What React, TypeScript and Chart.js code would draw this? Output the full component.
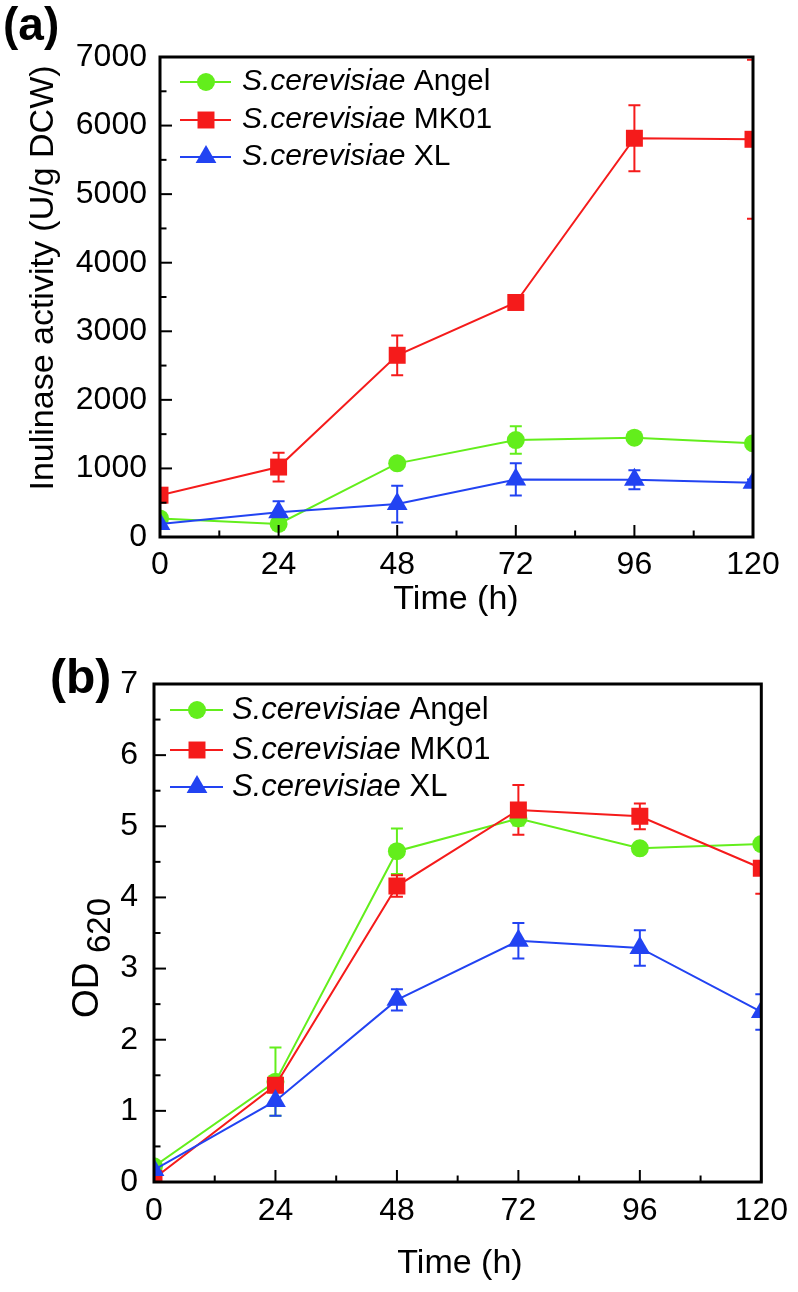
import React, { useEffect, useRef } from 'react';
import { Chart, registerables } from 'chart.js';

Chart.register(...registerables);

// ---------- data ----------
const hours = [0, 24, 48, 72, 96, 120];
const xTickStep = 24;
const strainNames = ['Angel', 'MK01', 'XL'];
const speciesName = 'S.cerevisiae';

// (a) Inulinase activity (U/g DCW)
const activityAngel = [270, 190, 1074, 1414, 1448, 1366];
const activityAngelErr = [50, 60, 40, 200, 40, 60];
const activityMK01 = [610, 1020, 2650, 3420, 5815, 5800];
const activityMK01Err = [40, 210, 290, 50, 480, 1160];
const activityXL = [190, 360, 480, 840, 835, 790];
const activityXLErr = [60, 160, 267, 236, 140, 50];
const activityTicks = [0, 1000, 2000, 3000, 4000, 5000, 6000, 7000];

// (b) OD 620
const odAngel = [0.22, 1.41, 4.65, 5.11, 4.69, 4.75];
const odAngelErr = [0.05, 0.48, 0.32, 0.1, 0.05, 0.05];
const odMK01 = [0.05, 1.36, 4.16, 5.23, 5.14, 4.41];
const odMK01Err = [0.05, 0.1, 0.15, 0.35, 0.18, 0.36];
const odXL = [0.17, 1.14, 2.56, 3.39, 3.29, 2.39];
const odXLErr = [0.05, 0.21, 0.15, 0.25, 0.25, 0.25];
const odTicks = [0, 1, 2, 3, 4, 5, 6, 7];

// ---------- style ----------
const FONT = '"Liberation Sans", Arial, Helvetica, sans-serif';
const COLORS = ['#63ee1c', '#f51b1b', '#2243f2'];
const STYLES = ['circle', 'rect', 'triangle'];
const RADII = [9, 12, 12];
const ORDERS = [3, 2, 1];

function drawMarker(ctx: CanvasRenderingContext2D, style: string, x: number, y: number, r: number) {
  ctx.beginPath();
  if (style === 'circle') {
    ctx.arc(x, y, r, 0, Math.PI * 2);
  } else if (style === 'rect') {
    const s = Math.SQRT1_2 * r;
    ctx.rect(x - s, y - s, 2 * s, 2 * s);
  } else {
    let rad = 0;
    ctx.moveTo(x + Math.sin(rad) * r, y - Math.cos(rad) * r);
    rad += (2 * Math.PI) / 3;
    ctx.lineTo(x + Math.sin(rad) * r, y - Math.cos(rad) * r);
    rad += (2 * Math.PI) / 3;
    ctx.lineTo(x + Math.sin(rad) * r, y - Math.cos(rad) * r);
    ctx.closePath();
  }
  ctx.fill();
}

interface PanelSpec {
  width: number;
  height: number;
  area: { left: number; top: number; right: number; bottom: number };
  yTicks: number[];
  yMinor: number;
  values: number[][];
  errors: number[][];
  tickPadY: number;
  tickPadX: number;
  xTitle: { x: number; y: number; size: number };
  drawYTitle: (ctx: CanvasRenderingContext2D) => void;
  label: { text: string; x: number; y: number; size: number };
  legend: { rows: number[]; x1: number; x2: number; mx: number; tx: number; size: number };
}

function buildChart(canvas: HTMLCanvasElement, p: PanelSpec) {
  const yMax = p.yTicks[p.yTicks.length - 1];
  const yStep = p.yTicks[1] - p.yTicks[0];
  const xMax = hours[hours.length - 1];

  const decor = {
    id: 'decor',
    beforeDatasetsDraw(chart: any) {
      const ctx = chart.ctx as CanvasRenderingContext2D;
      const { left, right, top, bottom } = chart.chartArea;
      const xs = chart.scales.x;
      const ys = chart.scales.y;
      ctx.save();
      ctx.beginPath();
      ctx.rect(left, top, right - left, bottom - top);
      ctx.clip();
      ctx.lineWidth = 2;
      p.values.forEach((vals, i) => {
        ctx.strokeStyle = COLORS[i];
        vals.forEach((v, j) => {
          const e = p.errors[i][j];
          const x = xs.getPixelForValue(hours[j]);
          const y1 = ys.getPixelForValue(v + e);
          const y2 = ys.getPixelForValue(v - e);
          ctx.beginPath();
          ctx.moveTo(x, y1);
          ctx.lineTo(x, y2);
          ctx.moveTo(x - 6, y1);
          ctx.lineTo(x + 6, y1);
          ctx.moveTo(x - 6, y2);
          ctx.lineTo(x + 6, y2);
          ctx.stroke();
        });
      });
      ctx.restore();
    },
    afterDatasetsDraw(chart: any) {
      const ctx = chart.ctx as CanvasRenderingContext2D;
      const { left, right, top, bottom } = chart.chartArea;
      const xs = chart.scales.x;
      const ys = chart.scales.y;
      ctx.save();
      ctx.strokeStyle = '#000';
      ctx.lineWidth = 2;
      for (let k = 0; k * p.yMinor <= yMax + 1e-9; k++) {
        const v = k * p.yMinor;
        const major = Math.abs(v / yStep - Math.round(v / yStep)) < 1e-6;
        const y = ys.getPixelForValue(v);
        ctx.beginPath();
        ctx.moveTo(left, y);
        ctx.lineTo(left + (major ? 12 : 6.5), y);
        ctx.stroke();
      }
      for (let k = 0; k * (xTickStep / 2) <= xMax + 1e-9; k++) {
        const v = k * (xTickStep / 2);
        const major = k % 2 === 0;
        const x = xs.getPixelForValue(v);
        ctx.beginPath();
        ctx.moveTo(x, bottom);
        ctx.lineTo(x, bottom - (major ? 12 : 6.5));
        ctx.stroke();
      }
      ctx.lineWidth = 3;
      ctx.strokeRect(left, top, right - left, bottom - top);
      ctx.restore();
    },
    afterDraw(chart: any) {
      const ctx = chart.ctx as CanvasRenderingContext2D;
      ctx.save();
      ctx.fillStyle = '#000';
      ctx.font = `${p.xTitle.size}px ${FONT}`;
      ctx.textAlign = 'center';
      ctx.textBaseline = 'middle';
      ctx.fillText('Time (h)', p.xTitle.x, p.xTitle.y);
      p.drawYTitle(ctx);
      ctx.font = `bold ${p.label.size}px ${FONT}`;
      ctx.textAlign = 'left';
      ctx.textBaseline = 'alphabetic';
      ctx.fillText(p.label.text, p.label.x, p.label.y);
      const L = p.legend;
      strainNames.forEach((name, i) => {
        const y = L.rows[i];
        ctx.strokeStyle = COLORS[i];
        ctx.fillStyle = COLORS[i];
        ctx.lineWidth = 2;
        ctx.beginPath();
        ctx.moveTo(L.x1, y);
        ctx.lineTo(L.x2, y);
        ctx.stroke();
        drawMarker(ctx, STYLES[i], L.mx, y, RADII[i]);
        ctx.fillStyle = '#000';
        ctx.textAlign = 'left';
        ctx.textBaseline = 'middle';
        ctx.font = `italic ${L.size}px ${FONT}`;
        ctx.fillText(speciesName, L.tx, y);
        const w = ctx.measureText(speciesName).width;
        ctx.font = `${L.size}px ${FONT}`;
        ctx.fillText(' ' + name, L.tx + w, y);
      });
      ctx.restore();
    },
  };

  return new Chart(canvas, {
    type: 'line',
    data: {
      datasets: p.values.map((vals, i) => ({
        label: `${speciesName} ${strainNames[i]}`,
        data: vals.map((v, j) => ({ x: hours[j], y: v })),
        borderColor: COLORS[i],
        backgroundColor: COLORS[i],
        borderWidth: 2,
        pointStyle: STYLES[i] as any,
        pointRadius: RADII[i],
        pointBorderWidth: 0,
        pointBackgroundColor: COLORS[i],
        fill: false,
        tension: 0,
        clip: 0,
        order: ORDERS[i],
      })),
    },
    options: {
      responsive: false,
      animation: false,
      devicePixelRatio: 1,
      layout: {
        padding: {
          left: 0,
          top: p.area.top,
          right: p.width - p.area.right,
          bottom: 0,
        },
      },
      plugins: {
        legend: { display: false },
        tooltip: { enabled: false },
        title: { display: false },
      },
      scales: {
        x: {
          type: 'linear',
          min: 0,
          max: xMax,
          border: { display: false },
          grid: { display: false, drawTicks: false },
          ticks: {
            stepSize: xTickStep,
            padding: p.tickPadX,
            color: '#000',
            font: { family: FONT, size: 32 },
            maxRotation: 0,
            callback: (v: any) => String(v),
          },
          afterFit: (s: any) => {
            s.height = p.height - p.area.bottom;
          },
        },
        y: {
          type: 'linear',
          min: 0,
          max: yMax,
          border: { display: false },
          grid: { display: false, drawTicks: false },
          afterBuildTicks: (s: any) => {
            s.ticks = p.yTicks.map((v) => ({ value: v }));
          },
          ticks: {
            padding: p.tickPadY,
            color: '#000',
            font: { family: FONT, size: 32 },
            callback: (v: any) => String(v),
          },
          afterFit: (s: any) => {
            s.width = p.area.left;
          },
        },
      },
    },
    plugins: [decor],
  } as any);
}

const panelA: PanelSpec = {
  width: 798,
  height: 640,
  area: { left: 160, top: 57, right: 753, bottom: 537 },
  yTicks: activityTicks,
  yMinor: 500,
  values: [activityAngel, activityMK01, activityXL],
  errors: [activityAngelErr, activityMK01Err, activityXLErr],
  tickPadY: 13,
  tickPadX: 9,
  xTitle: { x: 456, y: 600, size: 34 },
  drawYTitle: (ctx) => {
    ctx.save();
    ctx.translate(44, 278);
    ctx.rotate(-Math.PI / 2);
    ctx.font = `34px ${FONT}`;
    ctx.textAlign = 'center';
    ctx.textBaseline = 'middle';
    ctx.fillStyle = '#000';
    ctx.fillText('Inulinase activity (U/g DCW)', 0, 0);
    ctx.restore();
  },
  label: { text: '(a)', x: 3, y: 40, size: 46 },
  legend: { rows: [82, 120, 157], x1: 180, x2: 231, mx: 206, tx: 242, size: 30 },
};

const panelB: PanelSpec = {
  width: 798,
  height: 652,
  area: { left: 154, top: 44, right: 767, bottom: 542 },
  yTicks: odTicks,
  yMinor: 0.5,
  values: [odAngel, odMK01, odXL],
  errors: [odAngelErr, odMK01Err, odXLErr],
  tickPadY: 16,
  tickPadX: 10,
  xTitle: { x: 460, y: 624, size: 34 },
  drawYTitle: (ctx) => {
    ctx.save();
    ctx.fillStyle = '#000';
    ctx.textAlign = 'left';
    ctx.textBaseline = 'alphabetic';
    ctx.save();
    ctx.translate(98, 378);
    ctx.rotate(-Math.PI / 2);
    ctx.font = `37px ${FONT}`;
    ctx.fillText('OD', 0, 0);
    ctx.restore();
    ctx.save();
    ctx.translate(110, 313);
    ctx.rotate(-Math.PI / 2);
    ctx.font = `33px ${FONT}`;
    ctx.fillText('620', 0, 0);
    ctx.restore();
    ctx.restore();
  },
  label: { text: '(b)', x: 50, y: 53, size: 48 },
  legend: { rows: [70, 110, 147], x1: 170, x2: 223, mx: 197, tx: 232, size: 31 },
};

export default function App() {
  const refA = useRef<HTMLCanvasElement | null>(null);
  const refB = useRef<HTMLCanvasElement | null>(null);

  useEffect(() => {
    const a = refA.current ? buildChart(refA.current, panelA) : null;
    const b = refB.current ? buildChart(refB.current, panelB) : null;
    return () => {
      a?.destroy();
      b?.destroy();
    };
  }, []);

  return (
    <div style={{ position: 'absolute', left: 0, top: 0, width: 798, height: 1292, background: '#fff' }}>
      <div style={{ position: 'absolute', left: 0, top: 0, width: 798, height: 640 }}>
        <canvas ref={refA} width={798} height={640} style={{ display: 'block', width: 798, height: 640 }} />
      </div>
      <div style={{ position: 'absolute', left: 0, top: 640, width: 798, height: 652 }}>
        <canvas ref={refB} width={798} height={652} style={{ display: 'block', width: 798, height: 652 }} />
      </div>
    </div>
  );
}
